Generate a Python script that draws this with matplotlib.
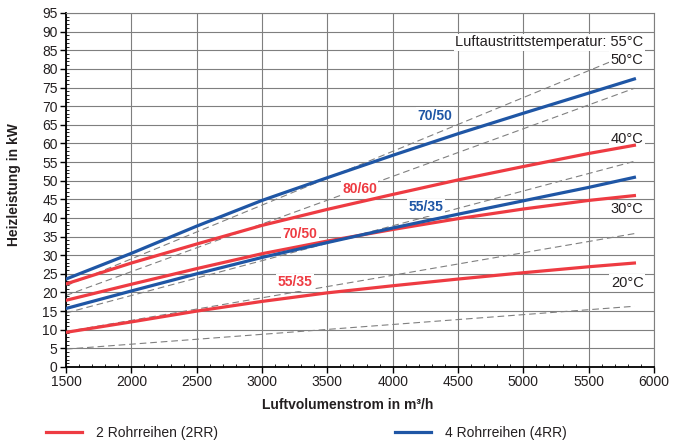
import matplotlib.pyplot as plt
from matplotlib.lines import Line2D
from matplotlib.ticker import MultipleLocator

plt.rcParams['font.family'] = ['Liberation Sans', 'DejaVu Sans']

# Luftvolumenstrom (m3/h) stuetzstellen der kurven
airflow = [1500, 2000, 2500, 3000, 3500, 4000, 4500, 5000, 5500, 5850]

# Heizleistung in kW
rr4_7050 = [23.6, 30.5, 37.8, 44.7, 50.8, 56.8, 62.6, 68.1, 73.5, 77.3]
rr4_5535 = [15.7, 20.4, 25.0, 29.4, 33.4, 37.3, 41.0, 44.6, 48.2, 50.9]
rr2_8060 = [22.3, 27.9, 33.0, 38.0, 42.3, 46.3, 50.2, 53.8, 57.3, 59.5]
rr2_7050 = [17.9, 22.2, 26.4, 30.4, 33.8, 36.9, 39.8, 42.4, 44.7, 46.0]
rr2_5535 = [9.3, 12.1, 15.0, 17.6, 19.9, 21.8, 23.6, 25.3, 26.9, 27.9]

# Luftaustrittstemperatur - gestrichelte linien (start / ende)
temp_labels = ['20°C', '30°C', '40°C', '50°C', 'Luftaustrittstemperatur: 55°C']
dash_x0 = [1500, 1500, 1500, 1500, 1500]
dash_x1 = [5850, 5850, 5850, 5850, 5665]
dash_y0 = [4.8, 9.5, 14.5, 19.2, 21.8]
dash_y1 = [16.3, 35.8, 55.2, 74.8, 81.9]
temp_label_y = [22.6, 42.4, 61.1, 82.5, 87.2]

RED = '#ee3b42'
BLUE = '#1f56a5'
TXT = '#231f20'

fig = plt.figure(figsize=(6.75, 4.45), dpi=100)
ax = fig.add_axes([66/675, 78/445, 588/675, 354/445])

for x0, x1, y0, y1 in zip(dash_x0, dash_x1, dash_y0, dash_y1):
    ax.plot([x0, x1], [y0, y1], color='#808080', lw=0.8,
            linestyle=(0, (6, 3.5)), zorder=2)

ax.plot(airflow, rr2_5535, color=RED, lw=2.3, zorder=3)
ax.plot(airflow, rr2_7050, color=RED, lw=2.3, zorder=3)
ax.plot(airflow, rr4_5535, color=BLUE, lw=2.3, zorder=3)
ax.plot(airflow, rr2_8060, color=RED, lw=2.3, zorder=3)
ax.plot(airflow, rr4_7050, color=BLUE, lw=2.3, zorder=3)

box = dict(facecolor='white', edgecolor='none', pad=1)
for lab, ty in zip(temp_labels, temp_label_y):
    ax.text(5920, ty, lab, ha='right', va='center', fontsize=10.5, color=TXT,
            bbox=box, zorder=2.5)

curve_labels = [('70/50', 4324, 67.4, BLUE), ('80/60', 3746, 47.8, RED),
                ('55/35', 4255, 42.9, BLUE), ('70/50', 3291, 35.6, RED),
                ('55/35', 3253, 22.7, RED)]
for lab, lx, ly, c in curve_labels:
    ax.text(lx, ly, lab, ha='center', va='center', fontsize=10,
            fontweight='bold', color=c, bbox=box, zorder=2.5)

ax.set_xlim(1500, 6000)
ax.set_ylim(0, 95)
ax.xaxis.set_major_locator(MultipleLocator(500))
ax.xaxis.set_minor_locator(MultipleLocator(100))
ax.yaxis.set_major_locator(MultipleLocator(5))
ax.yaxis.set_minor_locator(MultipleLocator(1))
ax.tick_params(which='major', direction='out', length=4, width=1,
               labelsize=10, labelcolor=TXT, pad=2)
ax.tick_params(which='minor', direction='in', length=2.5, width=0.6)
ax.grid(True, which='major', color='#7f7f7f', lw=0.8)
ax.set_axisbelow(True)
for s in ['left', 'bottom']:
    ax.spines[s].set_linewidth(1.3)
    ax.spines[s].set_color('black')
for s in ['top', 'right']:
    ax.spines[s].set_linewidth(0.8)
    ax.spines[s].set_color('#7f7f7f')

fig.text(14/675, 1 - 185/445, 'Heizleistung in kW', rotation=90,
         ha='center', va='center', fontsize=10, fontweight='bold', color=TXT)
fig.text(348/675, 1 - 405/445, 'Luftvolumenstrom in m³/h',
         ha='center', va='center', fontsize=10, fontweight='bold', color=TXT)

h_red = Line2D([], [], color=RED, lw=2.3)
h_blue = Line2D([], [], color=BLUE, lw=2.3)
for h, lab, x in [(h_red, '2 Rohrreihen (2RR)', 46), (h_blue, '4 Rohrreihen (4RR)', 395)]:
    fig.legend([h], [lab], loc='center left', bbox_to_anchor=(x/675, 1 - 432.7/445),
               frameon=False, fontsize=10, handlelength=2.6, handletextpad=1.0,
               borderpad=0, borderaxespad=0, labelcolor=TXT)

fig.savefig('out.png', dpi=100)
